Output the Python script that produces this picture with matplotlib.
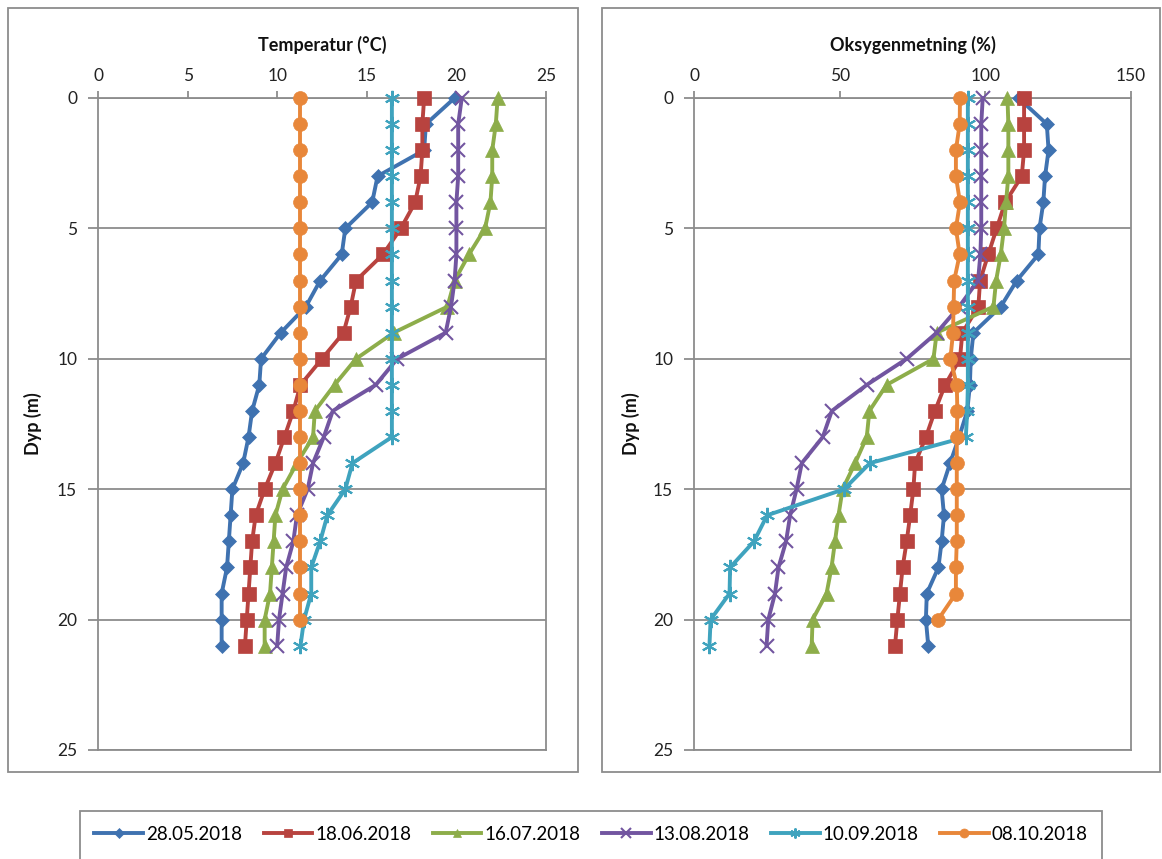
import matplotlib
matplotlib.use("Agg")
import matplotlib.pyplot as plt
import matplotlib.patches as mpatches

plt.rcParams['font.family'] = ['Lato', 'DejaVu Sans']

# ---- data ----
datoer = ["28.05.2018", "18.06.2018", "16.07.2018", "13.08.2018", "10.09.2018", "08.10.2018"]
dyp = list(range(22))        # 0..21 m
dyp_okt = list(range(21))    # 08.10 only to 20 m

temp_mai = [19.9, 18.3, 18.2, 15.6, 15.3, 13.8, 13.6, 12.4, 11.6, 10.2, 9.1, 9.0,
            8.6, 8.4, 8.1, 7.5, 7.4, 7.3, 7.2, 6.9, 6.9, 6.9]
temp_jun = [18.2, 18.1, 18.1, 18.0, 17.7, 16.9, 15.9, 14.4, 14.1, 13.7, 12.5, 11.3,
            10.9, 10.4, 9.9, 9.3, 8.8, 8.6, 8.5, 8.4, 8.3, 8.2]
temp_jul = [22.3, 22.2, 22.0, 22.0, 21.9, 21.6, 20.7, 19.9, 19.5, 16.5, 14.4, 13.2,
            12.1, 12.0, 11.1, 10.3, 9.9, 9.8, 9.7, 9.6, 9.3, 9.3]
temp_aug = [20.3, 20.1, 20.1, 20.1, 20.0, 20.0, 20.0, 19.9, 19.7, 19.4, 16.7, 15.5,
            13.1, 12.6, 12.0, 11.7, 11.1, 10.9, 10.5, 10.3, 10.1, 10.0]
temp_sep = [16.4, 16.4, 16.4, 16.4, 16.4, 16.4, 16.4, 16.4, 16.4, 16.4, 16.4, 16.4,
            16.4, 16.4, 14.2, 13.8, 12.8, 12.4, 11.9, 11.9, 11.5, 11.3]
temp_okt = [11.3] * 21

oks_mai = [111.4, 121.1, 121.7, 120.5, 119.9, 118.6, 118.2, 110.8, 105.3, 95.9, 95.0, 94.7,
           93.8, 91.0, 87.9, 85.0, 85.8, 85.0, 83.9, 79.9, 79.6, 80.4]
oks_jun = [113.3, 113.3, 113.3, 112.5, 106.8, 103.9, 101.0, 98.2, 97.6, 92.1, 91.3, 86.2,
           82.7, 79.6, 75.9, 75.3, 74.2, 73.0, 71.6, 70.7, 69.8, 69.0]
oks_jul = [107.6, 107.9, 107.9, 107.9, 107.1, 106.4, 105.3, 103.7, 102.8, 83.3, 82.2, 66.1,
           60.2, 59.3, 55.3, 51.0, 49.6, 48.4, 47.2, 45.5, 40.7, 40.4]
oks_aug = [99.1, 98.6, 98.6, 98.6, 98.6, 98.6, 98.3, 97.5, 91.0, 83.3, 73.0, 59.3,
           47.3, 44.2, 37.0, 35.2, 33.0, 31.6, 29.0, 27.8, 25.5, 24.9]
oks_sep = [94.0, 94.0, 94.0, 94.0, 94.0, 94.0, 94.0, 94.0, 94.0, 94.0, 94.0, 94.0,
           93.8, 93.3, 60.4, 51.5, 25.1, 20.6, 12.4, 12.2, 5.7, 5.3]
oks_okt = [91.3, 91.2, 89.9, 89.9, 91.3, 89.9, 91.2, 89.3, 89.1, 88.9, 88.0, 90.2,
           90.4, 90.2, 90.2, 90.2, 90.2, 90.2, 89.9, 89.9, 83.8]

temp_serier = [temp_mai, temp_jun, temp_jul, temp_aug, temp_sep, temp_okt]
oks_serier = [oks_mai, oks_jun, oks_jul, oks_aug, oks_sep, oks_okt]
dyp_serier = [dyp, dyp, dyp, dyp, dyp, dyp_okt]

# ---- stil ----
farger = ["#3F72B0", "#B8433F", "#8DAD4A", "#7255A0", "#3FA3BE", "#E8873A"]
markorer = ["D", "s", "^", "x", (6, 2, 0), "o"]
msizes = [7.5, 9.5, 9.5, 10, 11, 10]
GRA = "#8C8C8C"

W, H = 1162, 859
fig = plt.figure(figsize=(W / 100, H / 100), dpi=100)


def px_axes(x0, y0, x1, y1):
    return fig.add_axes([x0 / W, 1 - y1 / H, (x1 - x0) / W, (y1 - y0) / H])


def boks(x0, y0, x1, y1):
    r = mpatches.Rectangle((x0 / W, 1 - y1 / H), (x1 - x0) / W, (y1 - y0) / H,
                           transform=fig.transFigure, fill=False, edgecolor=GRA,
                           linewidth=1.3, zorder=0)
    fig.add_artist(r)


boks(8, 8, 578, 772)
boks(602, 8, 1160, 772)
boks(80, 811, 1102, 866)


def lag_panel(ax, serier, xmax, xstep, tittel):
    for i, (xs, ys) in enumerate(zip(serier, dyp_serier)):
        fylt = markorer[i] not in ("x", (6, 2, 0))
        ax.plot(xs, ys, color=farger[i], lw=2.8, marker=markorer[i], ms=msizes[i],
                mfc=farger[i], mec=farger[i], mew=1.5 if not fylt else 0.5,
                label=datoer[i], solid_joinstyle="round", clip_on=False, zorder=3 + i)
    ax.set_xlim(0, xmax)
    ax.set_ylim(25, 0)
    ax.set_xticks(range(0, xmax + 1, xstep))
    ax.set_yticks(range(0, 26, 5))
    ax.xaxis.tick_top()
    ax.tick_params(axis="both", colors=GRA, labelcolor="#222222", labelsize=12.5,
                   length=5, width=1.3, direction="out", pad=5)
    ax.tick_params(axis="y", length=7, pad=8)
    ax.grid(axis="y", color=GRA, linewidth=1.3)
    ax.set_axisbelow(True)
    for s in ax.spines.values():
        s.set_color(GRA)
        s.set_linewidth(1.3)
    ax.text(0.5, 1 + 53 / 652, tittel, transform=ax.transAxes, ha="center", va="center",
            fontsize=13, fontweight="bold", color="#111111")
    ax.set_ylabel("Dyp (m)", fontsize=13, fontweight="bold", color="#111111")


ax1 = px_axes(98, 98, 546, 750)
lag_panel(ax1, temp_serier, 25, 5, "Temperatur (°C)")
ax1.yaxis.set_label_coords(-56 / 448, 0.5)

ax2 = px_axes(694, 98, 1131, 750)
lag_panel(ax2, oks_serier, 150, 50, "Oksygenmetning (%)")
ax2.yaxis.set_label_coords(-54 / 437, 0.5)

handles, labels = ax1.get_legend_handles_labels()
fig.legend(handles, labels, loc="center", ncol=6, frameon=False,
           bbox_to_anchor=(591 / W, 1 - 834 / H), fontsize=13.5,
           handlelength=2.6, handletextpad=0.15, columnspacing=1.15,
           markerscale=0.65)

fig.savefig("out.png", dpi=100)
